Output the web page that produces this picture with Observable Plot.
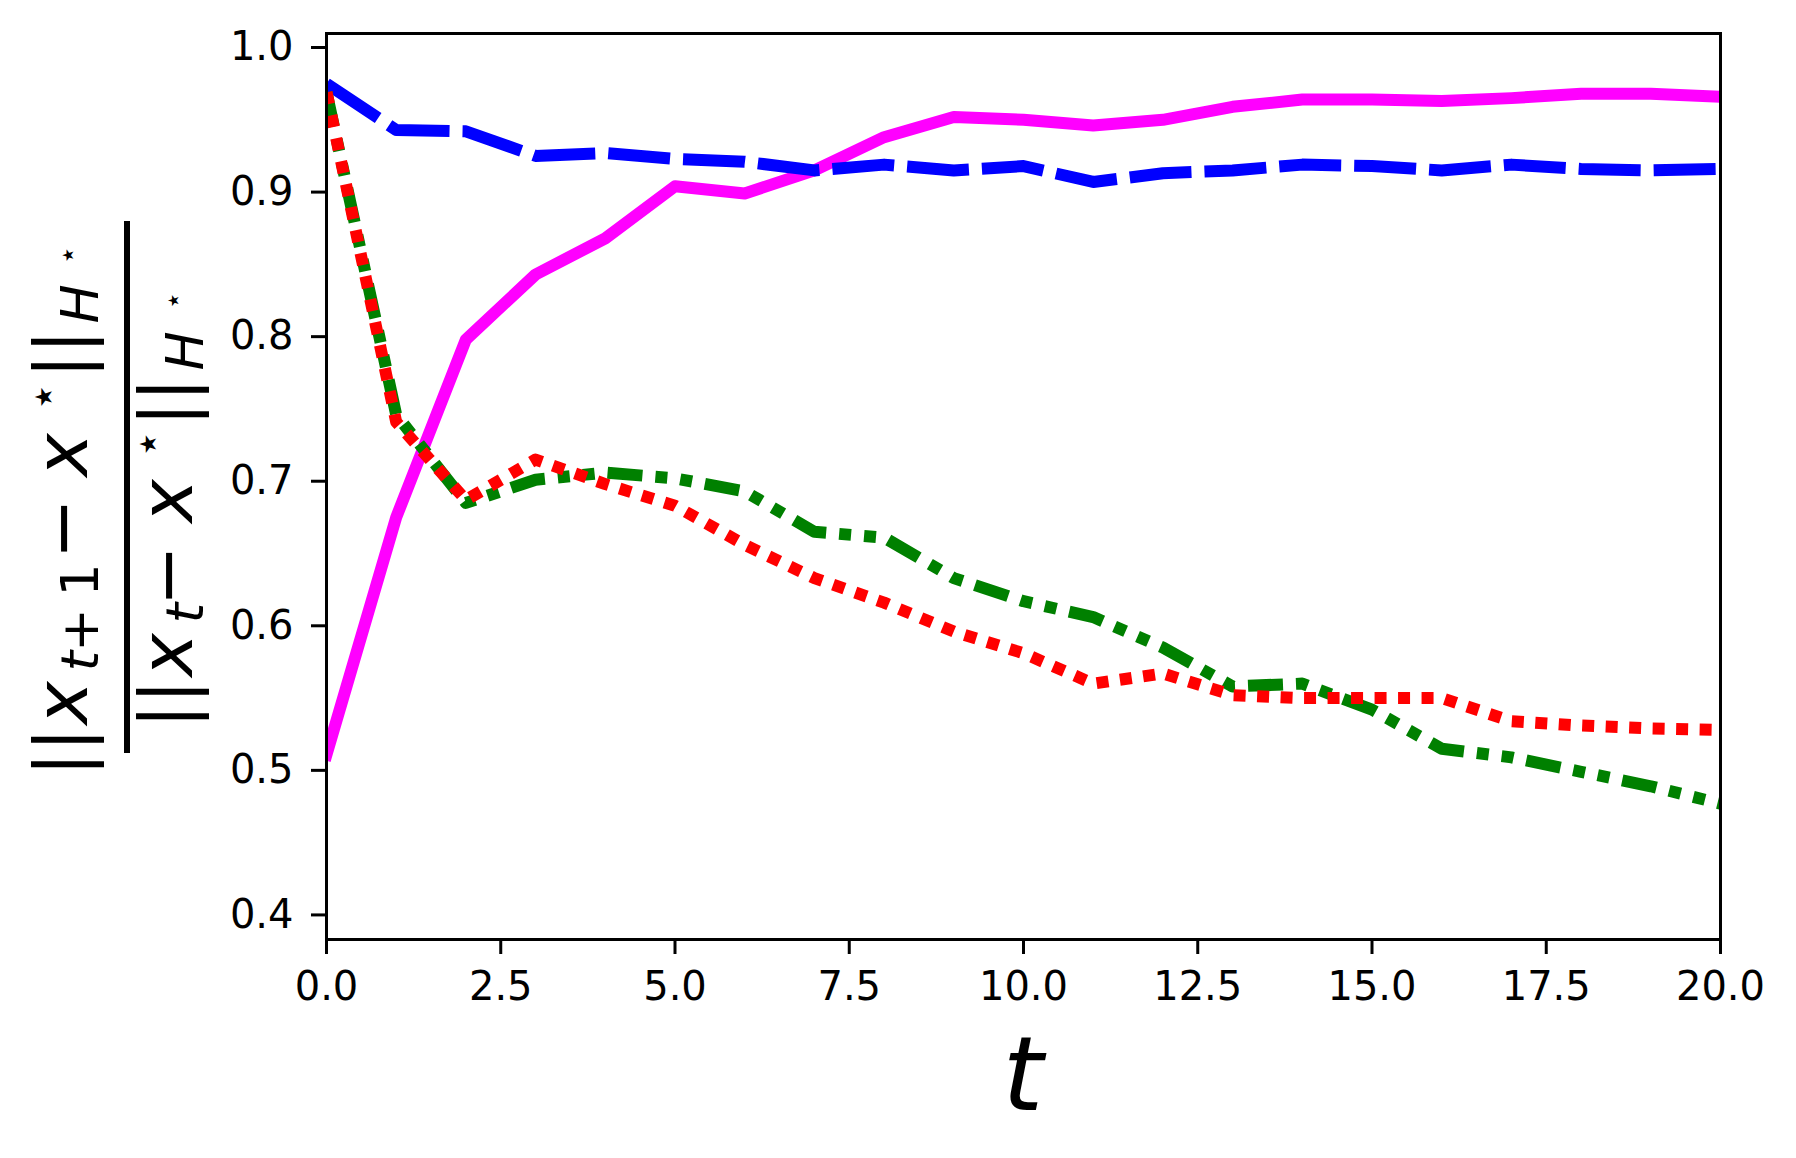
<!DOCTYPE html>
<html><head><meta charset="utf-8">
<script src="https://cdn.jsdelivr.net/npm/d3@7"></script>
<script src="https://cdn.jsdelivr.net/npm/@observablehq/plot@0.6"></script>
<style>
html,body{margin:0;padding:0;background:#fff;}
#chart svg{display:block;}
</style></head><body><div id="chart"></div>
<script>
const steps = [0,1,2,3,4,5,6,7,8,9,10,11,12,13,14,15,16,17,18,19,20];
const solidMagenta = [0.511,0.675,0.798,0.843,0.868,0.904,0.899,0.915,0.938,0.952,0.950,0.946,0.950,0.959,0.964,0.964,0.963,0.965,0.968,0.968,0.966];
const dashedBlue = [0.975,0.943,0.942,0.925,0.927,0.923,0.921,0.915,0.919,0.915,0.918,0.907,0.913,0.915,0.919,0.918,0.915,0.919,0.916,0.915,0.916];
const dashDotGreen = [0.969,0.746,0.685,0.701,0.706,0.702,0.693,0.665,0.661,0.633,0.617,0.606,0.585,0.558,0.560,0.542,0.515,0.509,0.499,0.489,0.477];
const dottedRed = [0.969,0.741,0.687,0.715,0.698,0.683,0.656,0.633,0.616,0.596,0.581,0.560,0.567,0.552,0.550,0.550,0.550,0.534,0.531,0.529,0.528];
const xTicks = [0,2.5,5,7.5,10,12.5,15,17.5,20];
const yTicks = [0.4,0.5,0.6,0.7,0.8,0.9,1.0];
const xLabel = "t";
// y label: ||x_{t+1} − x⋆||_{H⋆} / ||x_t − x⋆||_{H⋆}
const numeratorParts = [
  {s: "||", fs: 73, start: 743, base: 87},
  {s: "x", it: true, fs: 73, start: 705, base: 87},
  {s: "t", it: true, fs: 52, start: 658, base: 98},
  {s: "+", fs: 52, start: 625, base: 98},
  {s: "1", fs: 52, start: 575, base: 98},
  {s: "−", fs: 73, start: 522, base: 87},
  {s: "x", it: true, fs: 73, start: 457, base: 87},
  {s: "⋆", star: true, size: 18.5, cx: 42.5, cy: 382.5},
  {s: "||", fs: 73, start: 345, base: 87},
  {s: "H", it: true, fs: 52, start: 303, base: 98},
  {s: "⋆", star: true, size: 12, cx: 67.5, cy: 245.5}
];
const denominatorParts = [
  {s: "||", fs: 73, start: 695, base: 192},
  {s: "x", it: true, fs: 73, start: 657, base: 192},
  {s: "t", it: true, fs: 52, start: 610, base: 203},
  {s: "−", fs: 73, start: 569, base: 192},
  {s: "x", it: true, fs: 73, start: 503, base: 192},
  {s: "⋆", star: true, size: 18, cx: 147.5, cy: 429.5},
  {s: "||", fs: 73, start: 393, base: 192},
  {s: "H", it: true, fs: 52, start: 350, base: 203},
  {s: "⋆", star: true, size: 11.5, cx: 172.5, cy: 291.5}
];

const rows = vals => steps.map((t, i) => ({t, v: vals[i]}));
const FONT = "DejaVu Sans";

const plot = Plot.plot({
  width: 1796, height: 1158,
  marginLeft: 326, marginRight: 76, marginTop: 33, marginBottom: 219,
  style: {fontFamily: FONT, fontSize: "40px", background: "white", color: "black", overflow: "visible"},
  x: {domain: [0, 20]},
  y: {domain: [0.383, 1.0097]},
  marks: [
    Plot.line(rows(solidMagenta), {x: "t", y: "v", stroke: "#ff00ff", strokeWidth: 12, strokeLinejoin: "round", strokeLinecap: "square", clip: true}),
    Plot.line(rows(dashedBlue), {x: "t", y: "v", stroke: "#0000ff", strokeWidth: 12, strokeLinejoin: "round", strokeLinecap: "butt", strokeDasharray: "62,13", clip: true}),
    Plot.line(rows(dashDotGreen), {x: "t", y: "v", stroke: "#008000", strokeWidth: 12, strokeLinejoin: "round", strokeLinecap: "butt", strokeDasharray: "35,13,12,13,12,13", clip: true}),
    Plot.line(rows(dottedRed), {x: "t", y: "v", stroke: "#ff0000", strokeWidth: 12, strokeLinejoin: "round", strokeLinecap: "butt", strokeDasharray: "12,11.5", clip: true}),
    Plot.frame({stroke: "black", strokeWidth: 3}),
    Plot.axisX({ticks: xTicks, tickFormat: d3.format(".1f"), tickSize: 15, tickPadding: 17, strokeWidth: 3, label: null, fontSize: 40}),
    Plot.axisY({ticks: yTicks, tickFormat: d3.format(".1f"), tickSize: 15, tickPadding: 18, strokeWidth: 3, label: null, fontSize: 40})
  ]
});
document.getElementById("chart").appendChild(plot);

const svg = d3.select(plot);
// x axis label
svg.append("text").attr("x", 1023).attr("y", 1110)
  .attr("text-anchor", "middle").attr("font-family", FONT)
  .attr("font-style", "italic").attr("font-size", 104).attr("fill", "black").text(xLabel);

// y axis label: each glyph group placed by its ink box (rotated -90°)
const ctx = document.createElement("canvas").getContext("2d");
function measure(s, it, fs) {
  ctx.font = `${it ? "italic " : ""}${fs}px "${FONT}"`;
  const m = ctx.measureText(s);
  return {l: m.actualBoundingBoxLeft, r: m.actualBoundingBoxRight, a: m.actualBoundingBoxAscent, d: m.actualBoundingBoxDescent};
}
const label = svg.append("g").attr("transform", "rotate(-90)").attr("font-family", FONT).attr("fill", "black");
function place(parts) {
  parts.forEach(p => {
    let fs = p.fs, tx, ty;
    if (p.star) {
      const m100 = measure(p.s, false, 100);
      fs = 100 * p.size / Math.max(m100.l + m100.r, m100.a + m100.d);
      const m = measure(p.s, false, fs);
      tx = -p.cy - (m.r - m.l) / 2;
      ty = p.cx + (m.a - m.d) / 2;
    } else {
      const m = measure(p.s, p.it, fs);
      tx = m.l - p.start;
      ty = p.base;
    }
    const t = label.append("text").attr("x", tx).attr("y", ty).attr("font-size", fs).text(p.s);
    if (p.it) t.attr("font-style", "italic");
  });
}
place(numeratorParts);
place(denominatorParts);
svg.append("rect").attr("x", 124).attr("y", 221).attr("width", 6).attr("height", 532).attr("fill", "black");
</script></body></html>
